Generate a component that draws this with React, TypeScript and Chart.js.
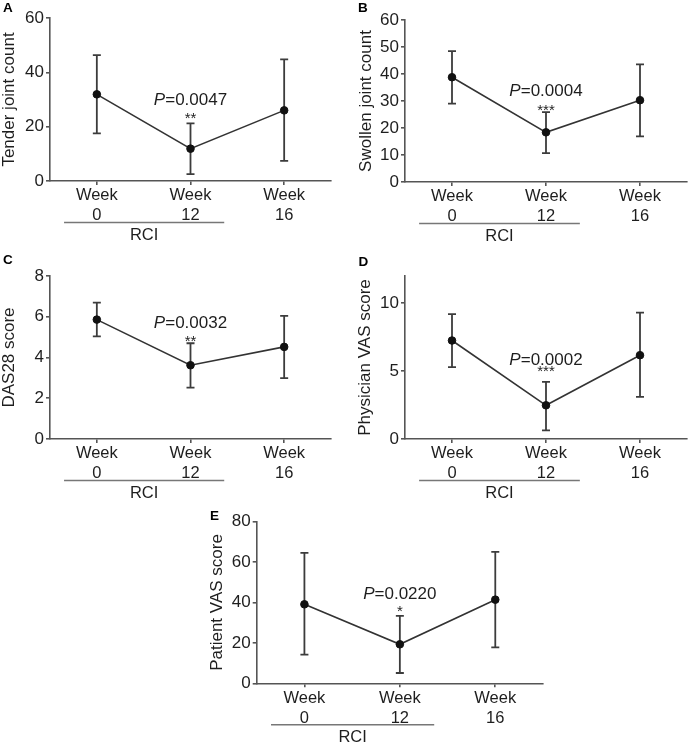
import React, { useEffect, useRef } from "react";
import { Chart, registerables } from "chart.js";

Chart.register(...registerables);

const FONT = '"Liberation Sans", Arial, Helvetica, sans-serif';
Chart.defaults.font.family = FONT;

// ---------- data ----------
const weekLabels = [["Week", "0"], ["Week", "12"], ["Week", "16"]];
const groupLabel = "RCI";
const groupSpan = [0, 1]; // categories covered by the RCI bracket

const tenderMean = [31.9, 11.9, 26.0];
const tenderLow = [17.5, 2.5, 7.4];
const tenderHigh = [46.3, 21.2, 44.8];
const tenderTicks = [0, 20, 40, 60];

const swollenMean = [38.8, 18.4, 30.3];
const swollenLow = [29.0, 10.7, 16.9];
const swollenHigh = [48.5, 25.9, 43.6];
const swollenTicks = [0, 10, 20, 30, 40, 50, 60];

const das28Mean = [5.86, 3.62, 4.52];
const das28Low = [5.04, 2.52, 2.99];
const das28High = [6.69, 4.7, 6.04];
const das28Ticks = [0, 2, 4, 6, 8];

const physicianMean = [7.25, 2.48, 6.17];
const physicianLow = [5.29, 0.64, 3.1];
const physicianHigh = [9.19, 4.2, 9.31];
const physicianTicks = [0, 5, 10];

const patientMean = [39.1, 19.3, 41.4];
const patientLow = [14.2, 5.1, 17.8];
const patientHigh = [64.6, 33.4, 65.1];
const patientTicks = [0, 20, 40, 60, 80];

const pValues = ["0.0047", "0.0004", "0.0032", "0.0002", "0.0220"];
const starLabels = ["**", "***", "**", "***", "*"];
const sigIndex = 1;

// ---------- panel layout ----------
interface Panel {
  letter: string;
  title: string;
  mean: number[];
  low: number[];
  high: number[];
  ticks: number[];
  yMax: number;
  p: string;
  stars: string;
  box: { left: number; top: number; width: number; height: number };
  area: { left: number; top: number; right: number; bottom: number };
  titlePad: number;
  letterPos: [number, number];
  pOffset: number;
  starOffset: number;
}

const panels: Panel[] = [
  {
    letter: "A", title: "Tender joint count",
    mean: tenderMean, low: tenderLow, high: tenderHigh, ticks: tenderTicks, yMax: 60,
    p: pValues[0], stars: starLabels[0],
    box: { left: 0, top: 0, width: 346, height: 250 },
    area: { left: 50, top: 18, right: 331, bottom: 181 },
    titlePad: 0, letterPos: [3, 12], pOffset: 23, starOffset: 9,
  },
  {
    letter: "B", title: "Swollen joint count",
    mean: swollenMean, low: swollenLow, high: swollenHigh, ticks: swollenTicks, yMax: 60,
    p: pValues[1], stars: starLabels[1],
    box: { left: 346, top: 0, width: 346, height: 250 },
    area: { left: 59, top: 20, right: 343, bottom: 182 },
    titlePad: 10.5, letterPos: [12, 12], pOffset: 21, starOffset: 5.5,
  },
  {
    letter: "C", title: "DAS28 score",
    mean: das28Mean, low: das28Low, high: das28High, ticks: das28Ticks, yMax: 8,
    p: pValues[2], stars: starLabels[2],
    box: { left: 0, top: 250, width: 346, height: 250 },
    area: { left: 50, top: 26, right: 331, bottom: 189 },
    titlePad: 0, letterPos: [3, 13.5], pOffset: 19.5, starOffset: 6,
  },
  {
    letter: "D", title: "Physician VAS score",
    mean: physicianMean, low: physicianLow, high: physicianHigh, ticks: physicianTicks, yMax: 12,
    p: pValues[3], stars: starLabels[3],
    box: { left: 346, top: 250, width: 346, height: 250 },
    area: { left: 59, top: 26, right: 343, bottom: 189 },
    titlePad: 9.5, letterPos: [12.5, 16], pOffset: 22, starOffset: 14.5,
  },
  {
    letter: "E", title: "Patient VAS score",
    mean: patientMean, low: patientLow, high: patientHigh, ticks: patientTicks, yMax: 80,
    p: pValues[4], stars: starLabels[4],
    box: { left: 170, top: 490, width: 380, height: 255 },
    area: { left: 86.7, top: 31.7, right: 373, bottom: 193.3 },
    titlePad: 37.5, letterPos: [40, 29.5], pOffset: 21.5, starOffset: 8.5,
  },
];

const INK = "#1e1e1e";
const AXIS = "#555";

function overlayPlugin(spec: Panel) {
  return {
    id: "overlay" + spec.letter,
    beforeDatasetsDraw(chart: any) {
      const { ctx } = chart;
      const xs = chart.scales.x;
      const ys = chart.scales.y;
      ctx.save();
      ctx.strokeStyle = "#3c3c3c";
      ctx.lineWidth = 1.8;
      spec.mean.forEach((_m, i) => {
        const px = xs.getPixelForValue(i);
        const yl = ys.getPixelForValue(spec.low[i]);
        const yh = ys.getPixelForValue(spec.high[i]);
        ctx.beginPath();
        ctx.moveTo(px, yl);
        ctx.lineTo(px, yh);
        ctx.moveTo(px - 4, yl);
        ctx.lineTo(px + 4, yl);
        ctx.moveTo(px - 4, yh);
        ctx.lineTo(px + 4, yh);
        ctx.stroke();
      });
      ctx.restore();
    },
    afterDraw(chart: any) {
      const { ctx, chartArea } = chart;
      const xs = chart.scales.x;
      const ys = chart.scales.y;
      ctx.save();
      // panel letter
      ctx.fillStyle = "#000";
      ctx.font = `bold 13.5px ${FONT}`;
      ctx.textAlign = "left";
      ctx.textBaseline = "alphabetic";
      ctx.fillText(spec.letter, spec.letterPos[0], spec.letterPos[1]);

      // P value and stars
      const sx = xs.getPixelForValue(sigIndex);
      const top = ys.getPixelForValue(spec.high[sigIndex]);
      ctx.fillStyle = INK;
      ctx.font = `italic 17px ${FONT}`;
      const wP = ctx.measureText("P").width;
      const rest = "=" + spec.p;
      ctx.font = `17px ${FONT}`;
      const wR = ctx.measureText(rest).width;
      const start = sx - (wP + wR) / 2;
      ctx.textBaseline = "middle";
      ctx.textAlign = "left";
      ctx.font = `italic 17px ${FONT}`;
      ctx.fillText("P", start, top - spec.pOffset);
      ctx.font = `17px ${FONT}`;
      ctx.fillText(rest, start + wP, top - spec.pOffset);

      ctx.font = `15px ${FONT}`;
      ctx.textAlign = "center";
      ctx.textBaseline = "alphabetic";
      ctx.fillText(spec.stars, sx, top - spec.starOffset + 8.5);

      // RCI bracket
      const x0 = xs.getPixelForValue(groupSpan[0]);
      const x1 = xs.getPixelForValue(groupSpan[1]);
      const step = xs.getPixelForValue(1) - xs.getPixelForValue(0);
      const ly = chartArea.bottom + 41.5;
      ctx.strokeStyle = "#777";
      ctx.lineWidth = 1.5;
      ctx.beginPath();
      ctx.moveTo(x0 - step * 0.35, ly);
      ctx.lineTo(x1 + step * 0.36, ly);
      ctx.stroke();
      ctx.fillStyle = INK;
      ctx.font = `16.5px ${FONT}`;
      ctx.textAlign = "center";
      ctx.textBaseline = "middle";
      ctx.fillText(groupLabel, (x0 - step * 0.35 + x1 + step * 0.36) / 2, chartArea.bottom + 54);
      ctx.restore();
    },
  };
}

function PanelChart({ spec }: { spec: Panel }) {
  const ref = useRef<HTMLCanvasElement>(null);
  useEffect(() => {
    if (!ref.current) return;
    const chart = new Chart(ref.current, {
      type: "line",
      data: {
        labels: weekLabels as any,
        datasets: [
          {
            data: spec.mean,
            borderColor: "#333",
            borderWidth: 1.6,
            pointRadius: 3.8,
            pointBackgroundColor: "#111",
            pointBorderColor: "#111",
            pointBorderWidth: 1,
            tension: 0,
            fill: false,
          },
        ],
      },
      options: {
        animation: false,
        responsive: false,
        devicePixelRatio: 1,
        events: [],
        layout: {
          padding: {
            left: spec.titlePad,
            top: spec.area.top,
            right: spec.box.width - spec.area.right,
            bottom: 0,
          },
        },
        plugins: { legend: { display: false }, tooltip: { enabled: false } },
        scales: {
          x: {
            type: "category",
            offset: true,
            grid: {
              display: true,
              drawOnChartArea: false,
              drawTicks: true,
              tickLength: 4,
              color: AXIS,
              lineWidth: 1.6,
              offset: false,
            },
            border: { display: true, color: AXIS, width: 1.6 },
            ticks: {
              color: INK,
              font: { size: 16.5, lineHeight: 1.2 },
              padding: 1,
              maxRotation: 0,
              autoSkip: false,
            },
            afterFit: (scale: any) => {
              scale.height = spec.box.height - spec.area.bottom;
            },
          },
          y: {
            type: "linear",
            min: 0,
            max: spec.yMax,
            grid: {
              display: true,
              drawOnChartArea: false,
              drawTicks: true,
              tickLength: 4,
              color: AXIS,
              lineWidth: 1.6,
            },
            border: { display: true, color: AXIS, width: 1.6 },
            ticks: {
              color: INK,
              font: { size: 17 },
              padding: 2,
            },
            afterBuildTicks: (axis: any) => {
              axis.ticks = spec.ticks.map((v) => ({ value: v }));
            },
            title: {
              display: true,
              text: spec.title,
              color: INK,
              font: { size: 17, lineHeight: 1.1 },
              padding: { top: 0, bottom: 0 },
            },
            afterFit: (scale: any) => {
              scale.width = spec.area.left - spec.titlePad;
            },
          },
        },
      },
      plugins: [overlayPlugin(spec)],
    } as any);
    return () => chart.destroy();
  }, [spec]);
  return (
    <div
      style={{
        position: "absolute",
        left: spec.box.left,
        top: spec.box.top,
        width: spec.box.width,
        height: spec.box.height,
      }}
    >
      <canvas
        ref={ref}
        width={spec.box.width}
        height={spec.box.height}
        style={{ display: "block", width: spec.box.width, height: spec.box.height }}
      />
    </div>
  );
}

export default function App() {
  return (
    <div
      style={{
        position: "absolute",
        left: 0,
        top: 0,
        width: 692,
        height: 745,
        background: "#fff",
        overflow: "hidden",
      }}
    >
      {panels.map((p) => (
        <PanelChart key={p.letter} spec={p} />
      ))}
    </div>
  );
}
